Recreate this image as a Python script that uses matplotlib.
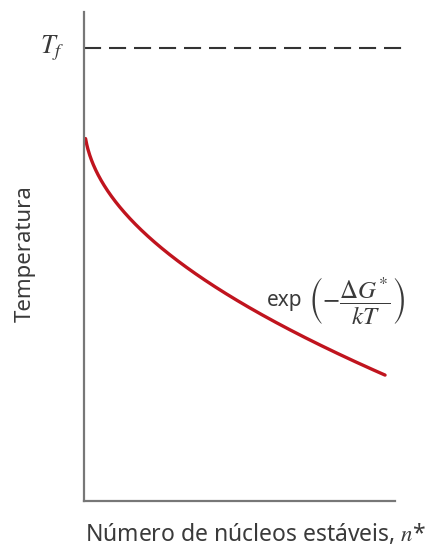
import matplotlib
matplotlib.use("Agg")
import matplotlib.pyplot as plt
import numpy as np

plt.rcParams['font.family'] = ['Noto Sans', 'DejaVu Sans']
plt.rcParams['mathtext.fontset'] = 'stix'

# Temperature vs. number of stable nuclei (arbitrary units)
n_stable = [0.05, 0.19, 0.41, 0.73, 1.16, 1.74, 2.44, 3.09, 4.05,
            5.02, 5.98, 6.95, 7.91, 8.87, 9.68]
temperature = [7.45, 7.08, 6.67, 6.30, 5.97, 5.64, 5.28, 4.95, 4.46,
               4.01, 3.66, 3.37, 3.09, 2.82, 2.60]
t_melt = 9.26

TEXT = '#3a3a3a'

fig = plt.figure(figsize=(4.29, 5.53), dpi=100)
ax = fig.add_axes([84 / 429, 52 / 553, 311 / 429, 489 / 553])
ax.set_xlim(0, 10)
ax.set_ylim(0, 10)

# smooth the sampled points with a cubic in sqrt(n) (steep start, gentle tail)
xs = np.array(n_stable)
ys = np.array(temperature)
coef = np.polyfit(np.sqrt(xs), ys, 3)
xf = np.linspace(xs[0], xs[-1], 500)
ax.plot(xf, np.polyval(coef, np.sqrt(xf)), color='#c0141e', lw=2.4,
        solid_capstyle='round')

ax.plot([0, 10.33], [t_melt, t_melt], color='#333333', lw=1.5,
        dashes=(8.2, 3.8), clip_on=False)

for side in ('top', 'right'):
    ax.spines[side].set_visible(False)
for side in ('left', 'bottom'):
    ax.spines[side].set_color('#777777')
    ax.spines[side].set_linewidth(1.6)
ax.set_xticks([])
ax.set_yticks([])

ax.text(-1.02, t_melt, r'$T_f$', fontsize=19, color=TEXT,
        ha='center', va='center')
ax.text(6.45, 4.1, 'exp', fontsize=15, color=TEXT, ha='center', va='center')
ax.text(8.75, 4.1, r'$\left(-\dfrac{\Delta G^{*}}{kT}\right)$', fontsize=18,
        color=TEXT, ha='center', va='center')

fig.text(25 / 429, 1 - 254 / 553, 'Temperatura', rotation=90, fontsize=16,
         color=TEXT, ha='center', va='center')
fig.text(255 / 429, 1 - 534 / 553, r'Número de núcleos estáveis, $n$*', fontsize=16.5,
         color=TEXT, ha='center', va='center')

fig.savefig('out.png', dpi=100)
